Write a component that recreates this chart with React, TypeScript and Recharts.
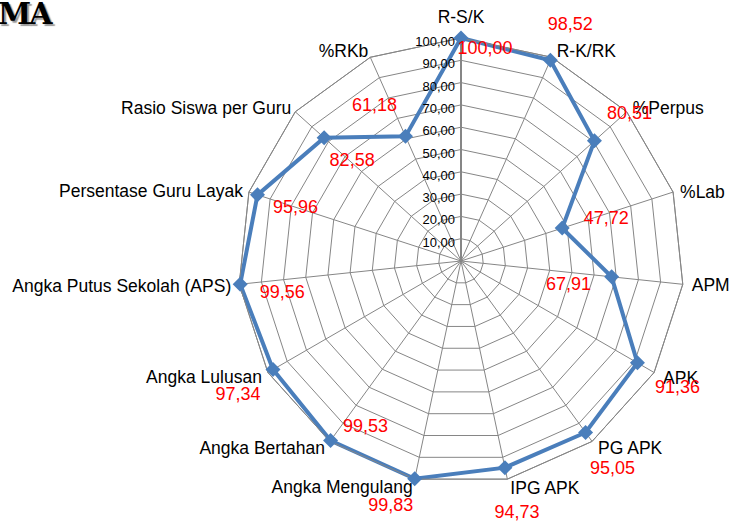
import { RadarChart, Radar, PolarGrid, PolarAngleAxis, PolarRadiusAxis, LabelList } from "recharts";

const categories = [
  "R-S/K",
  "R-K/RK",
  "%Perpus",
  "%Lab",
  "APM",
  "APK",
  "PG APK",
  "IPG APK",
  "Angka Mengulang",
  "Angka Bertahan",
  "Angka Lulusan",
  "Angka Putus Sekolah (APS)",
  "Persentase Guru Layak",
  "Rasio Siswa per Guru",
  "%RKb",
];

const values = [100.0, 98.52, 80.51, 47.72, 67.91, 91.36, 95.05, 94.73, 99.83, 99.53, 97.34, 99.56, 95.96, 82.58, 61.18];

const data = categories.map((name, i) => ({ name, value: values[i] }));

const CX = 461;
const CY = 261;
const R = 223;
const FONT = "'Liberation Sans', Arial, sans-serif";

// label placement tweaks (Excel put them by hand)
const catPos: [number, number, "start" | "middle" | "end"][] = [
  [0, -15, "middle"],
  [5, 0, "start"],
  [6, 2, "start"],
  [7, 6, "start"],
  [9, 7, "start"],
  [9, 11, "start"],
  [6, 13, "start"],
  [3, 15, "start"],
  [-2, 14, "end"],
  [-5, 13, "end"],
  [-6, 10, "end"],
  [-8, 8, "end"],
  [-6, 5, "end"],
  [-4, 2, "end"],
  [-2, 0, "end"],
];

const valPos: [number, number][] = [
  [24, 15.5],
  [20, -30.5],
  [35, -21.5],
  [44, -4.5],
  [-43, 13.5],
  [40, 30.5],
  [27, 41.5],
  [12, 50.5],
  [-24, 32],
  [35, -9],
  [-35, 30.5],
  [42, 13.5],
  [38, 18.5],
  [28, 28.5],
  [-31, -25],
];

const fmt = (v: number) => v.toFixed(2).replace(".", ",");

const AngleTick = (props: any) => {
  const i = props.index ?? props.payload?.index ?? 0;
  const a = (i * 24 * Math.PI) / 180;
  const x = CX + R * Math.sin(a);
  const y = CY - R * Math.cos(a);
  const [dx, dy, anchor] = catPos[i];
  return (
    <text x={x + dx} y={y + dy} textAnchor={anchor} fontSize={17.5} fontFamily={FONT} fill="#000">
      {props.payload.value}
    </text>
  );
};

const RadiusTick = (props: any) => {
  const v = props.payload.value;
  if (!v) return <g />;
  return (
    <text x={props.x - 6} y={props.y + 8} textAnchor="end" fontSize={13} fontFamily={FONT} fill="#000">
      {fmt(v)}
    </text>
  );
};

const Diamond = (props: any) => {
  const { cx, cy } = props;
  const s = 7.5;
  return <polygon points={`${cx},${cy - s} ${cx + s},${cy} ${cx},${cy + s} ${cx - s},${cy}`} fill="#4a7ebb" />;
};

const ValueLabel = (props: any) => {
  const { x, y, value, index } = props;
  const [dx, dy] = valPos[index];
  return (
    <text x={x + dx} y={y + dy} textAnchor="middle" fontSize={18} fontFamily={FONT} fill="#ff0000">
      {fmt(value)}
    </text>
  );
};

export default function App() {
  return (
    <div style={{ position: "absolute", left: 0, top: 0, width: 732, height: 522, background: "#fff" }}>
      <div
        style={{
          position: "absolute",
          left: -2,
          top: -4,
          fontFamily: "'DejaVu Serif', serif",
          fontWeight: 900,
          fontSize: 30,
          letterSpacing: -2,
          color: "#000",
          textShadow: "2px 2px 1px #999",
        }}
      >
        MA
      </div>
      <RadarChart
        width={732}
        height={522}
        data={data}
        cx={CX}
        cy={CY}
        outerRadius={R}
        startAngle={90}
        endAngle={-270}
        margin={{ top: 0, right: 0, bottom: 0, left: 0 }}
      >
        <PolarGrid gridType="polygon" stroke="#868686" strokeWidth={1} />
        <PolarAngleAxis dataKey="name" tick={AngleTick} tickLine={false} axisLine={{ stroke: "#868686" }} />
        <PolarRadiusAxis
          angle={90}
          domain={[0, 100]}
          tickCount={11}
          tick={RadiusTick}
          axisLine={{ stroke: "#868686", strokeWidth: 2 }}
          tickLine={false}
        />
        <Radar
          dataKey="value"
          stroke="#4a7ebb"
          strokeWidth={4}
          fill="none"
          fillOpacity={0}
          dot={Diamond}
          isAnimationActive={false}
        >
          <LabelList dataKey="value" content={ValueLabel} />
        </Radar>
      </RadarChart>
    </div>
  );
}
